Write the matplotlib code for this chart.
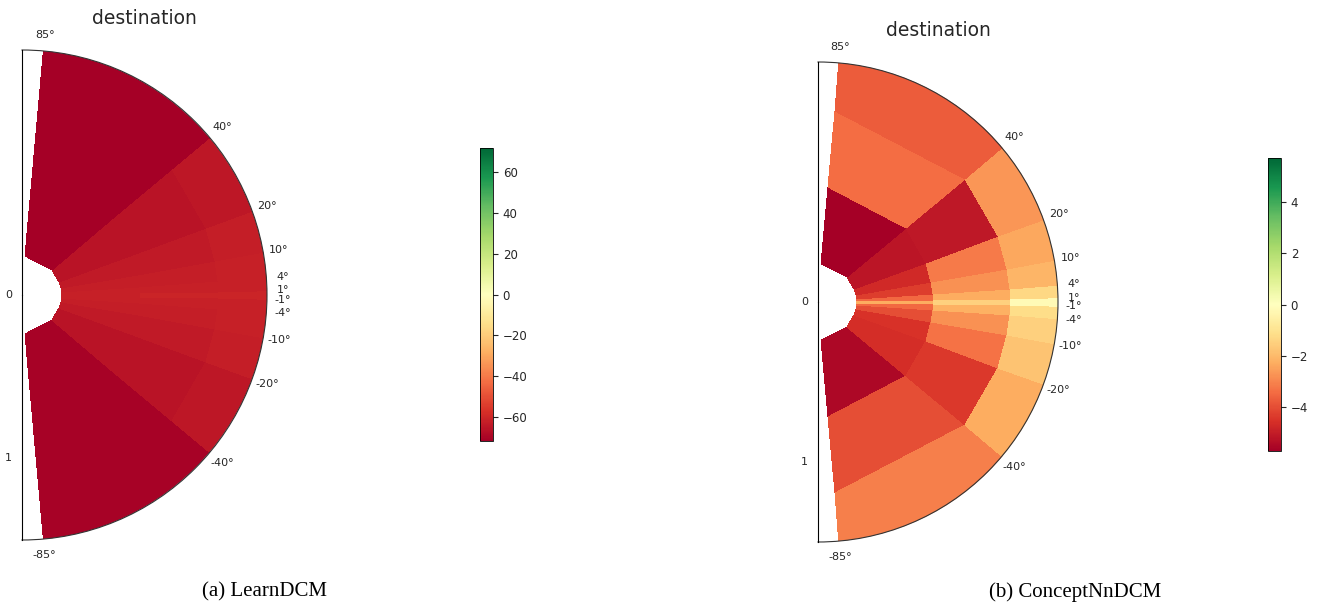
import numpy as np
import matplotlib
matplotlib.use("Agg")
import matplotlib.pyplot as plt

# ---- data ----
theta_edges_deg = [-85, -40, -20, -10, -4, -1, 1, 4, 10, 20, 40, 85]
r_edges = [0.24, 0.72, 1.2, 1.68]
r_ticks = [0, 1]

# rows: radial rings (inner, middle, outer); columns: theta bins from -85 to 85
learn_inner = [-71, -66, -64, -63, -62, -62, -62, -63, -64, -66, -72]
learn_mid   = [-71, -66, -64, -63, -62, -61, -62, -63, -64, -66, -72]
learn_outer = [-71, -65, -63, -62, -62, -61, -62, -62, -63, -65, -72]

concept_inner = [-5.5, -4.6, -4.5, -4.0, -3.5, -2.3, -3.5, -4.3, -4.7, -5.2, -5.7]
concept_mid   = [-4.0, -4.4, -3.3, -2.8, -2.2, -1.5, -2.3, -2.8, -3.2, -5.1, -3.4]
concept_outer = [-3.1, -2.3, -1.8, -1.5, -1.2, -0.2, -1.3, -2.1, -2.4, -2.7, -3.7]

titles = ["destination", "destination"]
captions = ["(a) LearnDCM", "(b) ConceptNnDCM"]

W, H = 1321, 609
fig = plt.figure(figsize=(W / 100, H / 100), dpi=100)
fig.patch.set_facecolor("white")


def px_rect(x0, y_top, w, h):
    return [x0 / W, (H - y_top - h) / H, w / W, h / H]


def polar_panel(cx, top, R, cbar_rect, data, title):
    # square axes box; the half-disc (width R, height 2R) is centred in it
    rect = px_rect(cx + R / 2 - R, top, 2 * R, 2 * R)
    ax = fig.add_axes(rect, projection="polar")
    ax.set_thetamin(-90)
    ax.set_thetamax(90)
    th = np.radians(theta_edges_deg)
    r = np.array(r_edges)
    C = np.array(data)
    vmax = np.abs(C).max()
    T, Rr = np.meshgrid(th, r)
    m = ax.pcolormesh(T, Rr, C, cmap="RdYlGn", vmin=-vmax, vmax=vmax,
                      shading="flat", edgecolors="face", linewidth=0)
    ax.set_ylim(0, 1.5)
    ax.set_yticks(r_ticks)
    ax.set_xticks(th)
    ax.grid(False)
    ax.tick_params(axis="x", labelsize=8, pad=1, colors="#262626")
    ax.tick_params(axis="y", labelsize=8, colors="#262626")
    ax.spines["polar"].set_color("#333333")
    ax.set_title(title, fontsize=13.5, color="#262626", pad=4)
    cax = fig.add_axes(cbar_rect)
    cb = fig.colorbar(m, cax=cax)
    cb.ax.tick_params(labelsize=8.5, colors="#262626")
    cb.outline.set_linewidth(0.6)
    return ax


polar_panel(22, 50, 245, px_rect(480, 148, 13, 293),
            [learn_inner, learn_mid, learn_outer], titles[0])
polar_panel(818, 62, 240, px_rect(1268, 158, 13, 293),
            [concept_inner, concept_mid, concept_outer], titles[1])

fig.text(264 / W, 1 - 592 / H, captions[0], ha="center", va="center",
         fontsize=15, family="Liberation Serif")
fig.text(1075 / W, 1 - 592 / H, captions[1], ha="center", va="center",
         fontsize=15, family="Liberation Serif")

fig.savefig("out.png", dpi=100, facecolor="white")
